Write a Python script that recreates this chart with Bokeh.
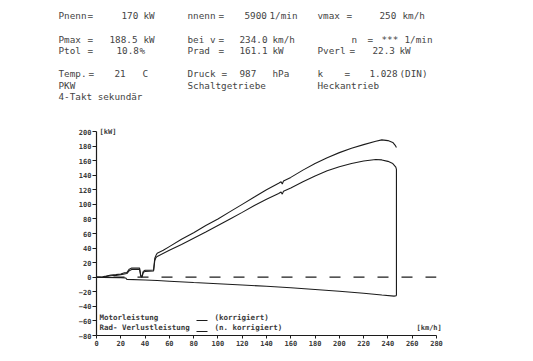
from bokeh.plotting import figure
from bokeh.models import Range1d, FixedTicker, Span
from bokeh.embed import file_html
from bokeh.resources import INLINE
from bokeh.core.properties import value

# ---------------- data ----------------
speed_motor = [0, 2.5, 5, 8, 12, 16, 20, 23, 25, 27, 29, 33, 35.5, 36.5, 37.5, 38.5, 40, 44, 47,
               48, 49, 50, 55, 60, 70, 80, 90, 100, 110, 120, 130, 140, 150, 152, 153, 154,
               160, 170, 180, 190, 200, 210, 220, 230, 235, 240, 244, 246, 247]
power_motor = [0, 0, 0.5, 1.5, 3, 3.5, 4.5, 6, 6.5, 11, 12.5, 12.5, 12.5, 2, 1, 8, 9.5, 9.5, 10,
               26, 30, 33, 37, 42, 52, 61, 71, 80, 90, 100, 110, 120, 129, 131, 128, 132,
               137, 147, 156, 164, 171, 177, 182, 186.5, 188.5, 187.5, 185, 181, 178]

speed_rad = [0, 5, 8, 12, 16, 20, 23, 25, 27, 29, 35.5, 36.5, 37.5, 38.5, 40, 47,
             48, 49, 50, 60, 70, 80, 90, 100, 110, 120, 130, 140, 150, 152, 153, 154,
             160, 170, 180, 190, 200, 210, 220, 230, 235, 240, 244, 246.5, 247, 247]
power_rad = [0, 0, 1, 2, 2.5, 3.5, 4.5, 5, 9, 10.5, 10.5, 1, 0, 6.5, 8, 8.5,
             23, 27, 28.5, 37, 45, 53.5, 62, 71, 80, 89, 98.5, 107, 115, 117, 114, 118,
             122.5, 131, 139, 146, 151.5, 156, 159.5, 161.5, 161, 159, 156, 151, 148, -25.5]

speed_loss = [0, 5, 20, 24, 25, 40, 50, 60, 80, 100, 120, 140, 160, 180, 200, 220, 235, 245, 247]
power_loss = [0, -0.3, -0.5, -1, -3, -3.8, -4.5, -5.5, -7.3, -9, -10.7, -12.5, -14.5,
              -16.8, -19.3, -22, -24.5, -26, -25.5]

x_ticks = list(range(0, 281, 20))
y_ticks = list(range(-80, 201, 20))

header_rows = [
    [("Pnenn", 59), ("=", 88), ("170", 122), ("kW", 144),
     ("nnenn", 188), ("=", 219), ("5900", 245), ("1/min", 270),
     ("vmax", 318), ("=", 347), ("250", 380), ("km/h", 403)],
    [("Pmax", 59), ("=", 88), ("188.5", 110), ("kW", 144),
     ("bei v", 188), ("=", 219), ("234.0", 240), ("km/h", 273),
     ("n", 352), ("=", 368), ("***", 382), ("1/min", 405)],
    [("Ptol", 59), ("=", 88), ("10.8", 117), ("%", 140),
     ("Prad", 188), ("=", 219), ("161.1", 240), ("kW", 273),
     ("Pverl", 318), ("=", 350), ("22.3", 373), ("kW", 400)],
    [("Temp.", 59), ("=", 89), ("21", 115), ("C", 143),
     ("Druck", 188), ("=", 222), ("987", 240), ("hPa", 273),
     ("k", 318), ("=", 345), ("1.028", 370), ("(DIN)", 400)],
    [("PKW", 59), ("Schaltgetriebe", 188), ("Heckantrieb", 318)],
    [("4-Takt sekundär", 59)],
]
header_row_y = [16, 40, 51, 74, 86, 97]

legend_names = ["Motorleistung", "Rad- Verlustleistung"]
legend_notes = ["(korrigiert)", "(n. korrigiert)"]

# ---------------- layout ----------------
OFF = 1                      # observed page offset of the canvas
W, H = 524, 352
LEFT, TOP = 97 - OFF, 132 - OFF
FW, FH = 340, 204
RIGHT, BOTTOM = W - LEFT - FW, H - TOP - FH
ink = "#1c1c1c"
txt_col = "#3a3a3a"
mono = value("DejaVu Sans Mono")


def dx(px):  # page pixel -> km/h
    return (px - OFF - LEFT) * 280.0 / FW


def dy(py):  # page pixel -> kW
    return 200.0 - (py - OFF - TOP) * 280.0 / FH


p = figure(width=W, height=H, x_range=Range1d(0, 280), y_range=Range1d(-80, 200),
           toolbar_location=None, output_backend="svg",
           min_border_left=LEFT, min_border_right=RIGHT,
           min_border_top=TOP, min_border_bottom=BOTTOM)
p.grid.visible = False
p.outline_line_color = None

for ax in (p.xaxis[0], p.yaxis[0]):
    ax.axis_line_color = ink
    ax.axis_line_width = 1.2
    ax.major_tick_line_color = ink
    ax.major_tick_in = 0
    ax.major_tick_out = 4
    ax.minor_tick_line_color = None
    ax.major_label_text_font = "DejaVu Sans Mono"
    ax.major_label_text_font_size = "7px"
    ax.major_label_text_font_style = "bold"
    ax.major_label_text_color = txt_col
    ax.major_label_standoff = 1
p.xaxis.ticker = FixedTicker(ticks=x_ticks)
p.yaxis.ticker = FixedTicker(ticks=y_ticks)
p.xaxis.major_tick_out = 3

p.add_layout(Span(location=0, dimension="width", line_color=ink, line_width=1.2,
                  line_dash="11 13", line_dash_offset=7))

p.line(speed_loss, power_loss, line_color=ink, line_width=1.1)
p.line(speed_rad, power_rad, line_color=ink, line_width=1.1)
p.line(speed_motor, power_motor, line_color=ink, line_width=1.1)

texts = []

# header block (above the plot frame)
hx, hy, ht = [], [], []
for row, yy in zip(header_rows, header_row_y):
    for t, xx in row:
        hx.append(dx(xx))
        hy.append(dy(yy))
        ht.append(t)
texts.append(p.text(x=hx, y=hy, text=ht, text_font=mono, text_font_size="9.3px",
                    text_baseline="middle", text_align="left", text_color="#444444"))

# unit labels
texts.append(p.text(x=[dx(100)], y=[dy(132)], text=["[kW]"], text_font=mono,
                    text_font_size="7px", text_font_style="bold", text_baseline="middle",
                    text_color=txt_col))
texts.append(p.text(x=[dx(417)], y=[dy(328)], text=["[km/h]"], text_font=mono,
                    text_font_size="7px", text_font_style="bold", text_baseline="middle",
                    text_color=txt_col))

# legend
texts.append(p.text(x=[dx(100)] * 2, y=[dy(318), dy(328)], text=legend_names, text_font=mono,
                    text_font_size="7.5px", text_font_style="bold", text_baseline="middle",
                    text_color=txt_col))
texts.append(p.text(x=[dx(215)] * 2, y=[dy(318), dy(328)], text=legend_notes, text_font=mono,
                    text_font_size="7.5px", text_font_style="bold", text_baseline="middle",
                    text_color=txt_col))
for r in texts:
    r.level = "overlay"

p.segment(x0=[dx(197)] * 2, y0=[dy(321), dy(332)], x1=[dx(208)] * 2, y1=[dy(321), dy(332)],
          line_color=ink, line_width=1.1)

open("out.html", "w").write(file_html(p, INLINE))
